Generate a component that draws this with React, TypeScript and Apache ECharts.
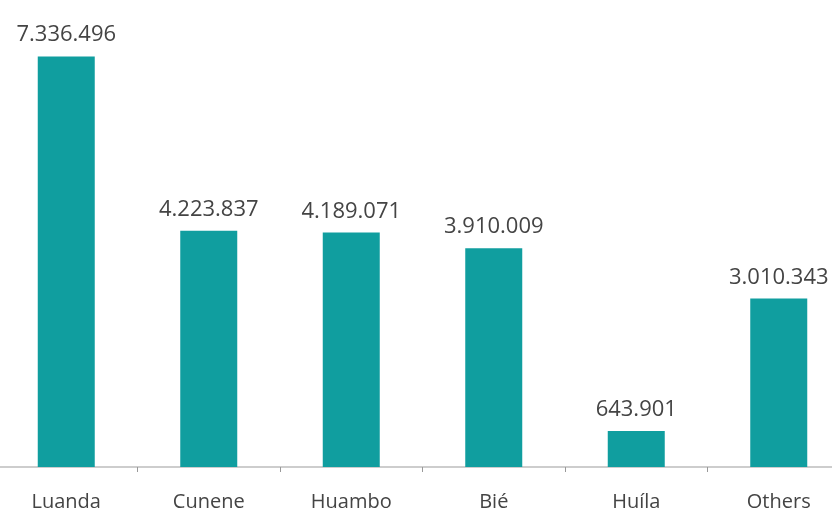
import React, { useEffect, useRef } from "react";
import * as echarts from "echarts";

const categories = ["Luanda", "Cunene", "Huambo", "Bié", "Huíla", "Others"];
const values = [7336496, 4223837, 4189071, 3910009, 643901, 3010343];

const fmt = (v: number) => String(v).replace(/\B(?=(\d{3})+(?!\d))/g, ".");

export default function App() {
  const ref = useRef<HTMLDivElement>(null);
  useEffect(() => {
    const chart = echarts.init(ref.current!, null, { renderer: "svg" });
    chart.setOption({
      animation: false,
      grid: { left: 0, right: 0, top: 0, bottom: 41, containLabel: false },
      xAxis: {
        type: "category",
        data: categories,
        axisLine: { lineStyle: { color: "#bdbdbd", width: 1.5 } },
        axisTick: { show: true, length: 5, lineStyle: { color: "#999" } },
        axisLabel: {
          color: "#444",
          fontFamily: "Open Sans",
          fontSize: 20,
          margin: 23,
          interval: 0,
        },
      },
      yAxis: {
        type: "value",
        min: 0,
        max: 8345000,
        show: false,
        splitLine: { show: false },
      },
      series: [
        {
          type: "bar",
          data: values,
          barWidth: "40%",
          itemStyle: { color: "#109e9f" },
          label: {
            show: true,
            position: "top",
            distance: 13,
            color: "#444",
            fontFamily: "Open Sans",
            fontSize: 22,
            formatter: (p: any) => fmt(p.value),
          },
        },
      ],
    });
    return () => chart.dispose();
  }, []);
  return (
    <div style={{ position: "fixed", left: -5.5, top: 0 }}>
      <div ref={ref} style={{ width: 855, height: 510 }} />
    </div>
  );
}
